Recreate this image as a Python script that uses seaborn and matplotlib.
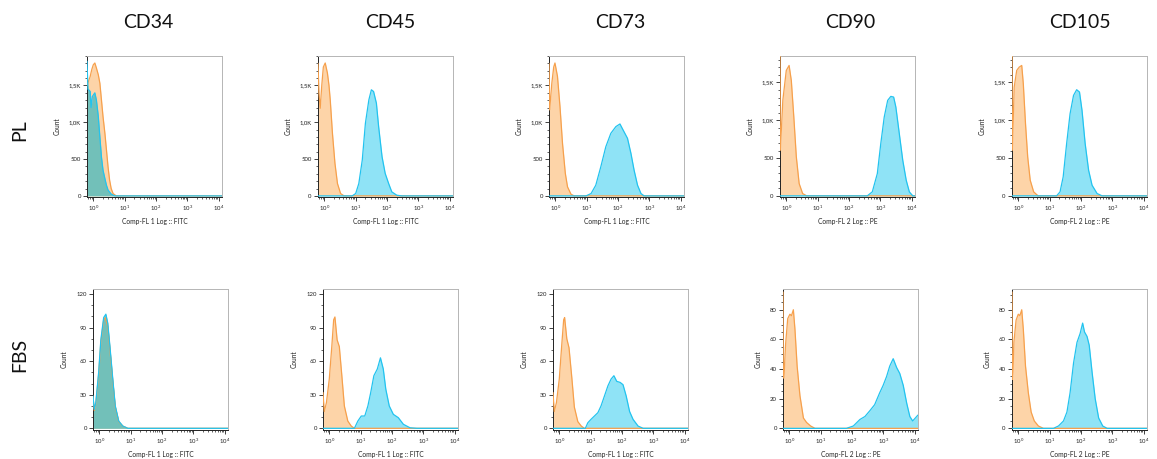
import numpy as np
import matplotlib
matplotlib.use("Agg")
import matplotlib.pyplot as plt
import seaborn as sns
from matplotlib.ticker import FuncFormatter, AutoMinorLocator, LogLocator, NullFormatter

# column / row labels
markers = ["CD34", "CD45", "CD73", "CD90", "CD105"]
media = ["PL", "FBS"]
channels = ["Comp-FL 1 Log :: FITC"] * 3 + ["Comp-FL 2 Log :: PE"] * 2

# histogram outlines: log10(fluorescence) and cell count
# "iso" = orange control, "ab" = blue stained sample
pl_cd34_iso_x = [-0.2, -0.1, -0.05, 0.0, 0.05, 0.1, 0.16, 0.21, 0.26, 0.31, 0.37, 0.42, 0.47, 0.52, 0.57, 0.63, 0.73, 4.1]
pl_cd34_iso_y = [1500, 1620, 1713, 1780, 1805, 1736, 1645, 1530, 1305, 1077, 850, 623, 395, 214, 100, 32, 0, 0]
pl_cd34_ab_x = [-0.2, -0.17, -0.1, -0.07, -0.03, 0.05, 0.1, 0.16, 0.21, 0.26, 0.31, 0.37, 0.42, 0.47, 0.57, 0.68, 4.1]
pl_cd34_ab_y = [1830, 1450, 1420, 1200, 1350, 1400, 1300, 1080, 800, 530, 350, 235, 145, 80, 25, 0, 0]

pl_cd45_iso_x = [-0.2, -0.17, -0.13, -0.08, -0.03, 0.03, 0.1, 0.15, 0.19, 0.26, 0.34, 0.42, 0.52, 0.63, 4.1]
pl_cd45_iso_y = [1800, 1400, 1190, 1500, 1750, 1805, 1668, 1500, 1304, 850, 441, 168, 32, 0, 0]
pl_cd45_ab_x = [-0.2, 0.89, 1.0, 1.1, 1.21, 1.31, 1.42, 1.5, 1.57, 1.66, 1.73, 1.84, 1.94, 2.05, 2.15, 2.31, 2.47, 4.1]
pl_cd45_ab_y = [0, 0, 32, 168, 486, 986, 1304, 1441, 1418, 1259, 945, 532, 305, 168, 55, 9, 0, 0]

pl_cd73_iso_x = [-0.2, -0.18, -0.11, -0.05, -0.01, 0.07, 0.15, 0.23, 0.32, 0.39, 0.5, 0.6, 4.1]
pl_cd73_iso_y = [1800, 1168, 1530, 1750, 1805, 1623, 1213, 714, 305, 123, 23, 0, 0]
pl_cd73_ab_x = [-0.2, 0.98, 1.14, 1.29, 1.45, 1.61, 1.77, 1.93, 2.06, 2.16, 2.3, 2.41, 2.51, 2.62, 2.73, 2.83, 4.1]
pl_cd73_ab_y = [0, 0, 32, 145, 395, 668, 850, 941, 977, 895, 782, 577, 350, 145, 32, 0, 0]

pl_cd90_iso_x = [-0.2, -0.19, -0.11, 0.0, 0.09, 0.16, 0.24, 0.32, 0.41, 0.52, 0.65, 4.1]
pl_cd90_iso_y = [2000, 603, 1263, 1659, 1725, 1527, 1043, 515, 163, 31, 0, 0]
pl_cd90_ab_x = [-0.2, 2.58, 2.74, 2.9, 3.01, 3.12, 3.23, 3.33, 3.42, 3.49, 3.6, 3.71, 3.82, 3.92, 4.03, 4.1]
pl_cd90_ab_y = [0, 0, 53, 295, 691, 1043, 1263, 1316, 1307, 1175, 823, 471, 207, 53, 0, 0]

pl_cd105_iso_x = [-0.2, -0.19, -0.13, -0.05, 0.03, 0.11, 0.16, 0.23, 0.3, 0.38, 0.49, 0.63, 4.1]
pl_cd105_iso_y = [2000, 603, 1439, 1659, 1703, 1725, 1483, 955, 515, 207, 53, 0, 0]
pl_cd105_ab_x = [-0.2, 1.22, 1.33, 1.43, 1.54, 1.65, 1.76, 1.86, 1.95, 2.03, 2.13, 2.24, 2.35, 2.51, 2.67, 4.1]
pl_cd105_ab_y = [0, 0, 53, 251, 691, 1087, 1329, 1404, 1373, 1131, 691, 339, 141, 31, 0, 0]

fbs_cd34_iso_x = [-0.2, -0.16, -0.11, -0.02, 0.05, 0.14, 0.19, 0.27, 0.34, 0.43, 0.51, 0.62, 0.75, 0.91, 4.1]
fbs_cd34_iso_y = [28, 16, 22, 48, 77, 97, 99, 91, 70, 42, 19, 6, 2, 0, 0]
fbs_cd34_ab_x = [-0.2, -0.16, -0.11, -0.02, 0.05, 0.14, 0.21, 0.27, 0.34, 0.43, 0.51, 0.62, 0.75, 0.91, 4.1]
fbs_cd34_ab_y = [29, 17, 23, 50, 79, 99, 102, 94, 73, 44, 20, 6.5, 2, 0, 0]

fbs_cd45_iso_x = [-0.2, -0.16, -0.09, 0.0, 0.08, 0.14, 0.18, 0.25, 0.32, 0.4, 0.48, 0.59, 0.7, 0.8, 4.1]
fbs_cd45_iso_y = [32, 15, 23, 44, 73, 97, 99.5, 79, 73, 47, 20, 6.5, 2, 0, 0]
fbs_cd45_ab_x = [-0.2, 0.8, 0.91, 1.02, 1.13, 1.23, 1.32, 1.42, 1.53, 1.63, 1.72, 1.8, 1.91, 2.04, 2.2, 2.36, 2.57, 2.79, 4.1]
fbs_cd45_ab_y = [0, 0, 6.5, 11, 11, 20, 32, 47, 53, 63, 53, 35, 20, 12.5, 9.5, 3.6, 0.5, 0, 0]

fbs_cd73_iso_x = [-0.2, -0.16, -0.09, 0.0, 0.08, 0.14, 0.17, 0.24, 0.31, 0.4, 0.48, 0.59, 0.7, 0.8, 4.1]
fbs_cd73_iso_y = [32, 15, 23, 44, 75, 97, 99, 80, 72, 45, 19, 6, 2, 0, 0]
fbs_cd73_ab_x = [-0.2, 0.83, 0.91, 1.01, 1.12, 1.23, 1.33, 1.44, 1.55, 1.65, 1.74, 1.83, 1.94, 2.03, 2.13, 2.24, 2.35, 2.51, 2.67, 4.1]
fbs_cd73_ab_y = [0, 0, 5, 8, 11, 14, 20, 29, 38, 44, 47, 42, 41, 39, 29, 15, 8, 2, 0, 0]

fbs_cd90_iso_x = [-0.2, -0.19, -0.17, -0.12, -0.05, 0.02, 0.07, 0.13, 0.18, 0.25, 0.34, 0.45, 0.55, 0.68, 0.82, 4.1]
fbs_cd90_iso_y = [92, 34, 34, 56, 74, 77, 76, 80, 67, 42, 22, 7, 4, 1.6, 0, 0]
fbs_cd90_ab_x = [-0.2, 1.82, 2.04, 2.25, 2.41, 2.57, 2.72, 2.88, 2.99, 3.1, 3.2, 3.31, 3.42, 3.52, 3.63, 3.74, 3.84, 3.93, 4.1]
fbs_cd90_ab_y = [0, 0, 1.6, 6, 8, 12, 16, 24, 29, 35, 42, 47, 41, 37, 29, 17, 8, 5, 9]

fbs_cd105_iso_x = [-0.2, -0.19, -0.17, -0.14, -0.07, 0.0, 0.05, 0.11, 0.16, 0.23, 0.32, 0.41, 0.51, 0.64, 0.8, 4.1]
fbs_cd105_iso_y = [92, 33, 38, 58, 73, 77, 76, 80, 67, 42, 24, 11, 5, 1.6, 0, 0]
fbs_cd105_ab_x = [-0.2, 1.12, 1.28, 1.44, 1.55, 1.65, 1.76, 1.87, 1.97, 2.05, 2.11, 2.19, 2.26, 2.35, 2.45, 2.56, 2.69, 2.83, 4.1]
fbs_cd105_ab_y = [0, 0, 1.6, 5, 11, 24, 44, 58, 64, 71, 65, 62, 56, 38, 20, 7, 1.6, 0, 0]

curves = {
    ("PL", "CD34"): (pl_cd34_iso_x, pl_cd34_iso_y, pl_cd34_ab_x, pl_cd34_ab_y),
    ("PL", "CD45"): (pl_cd45_iso_x, pl_cd45_iso_y, pl_cd45_ab_x, pl_cd45_ab_y),
    ("PL", "CD73"): (pl_cd73_iso_x, pl_cd73_iso_y, pl_cd73_ab_x, pl_cd73_ab_y),
    ("PL", "CD90"): (pl_cd90_iso_x, pl_cd90_iso_y, pl_cd90_ab_x, pl_cd90_ab_y),
    ("PL", "CD105"): (pl_cd105_iso_x, pl_cd105_iso_y, pl_cd105_ab_x, pl_cd105_ab_y),
    ("FBS", "CD34"): (fbs_cd34_iso_x, fbs_cd34_iso_y, fbs_cd34_ab_x, fbs_cd34_ab_y),
    ("FBS", "CD45"): (fbs_cd45_iso_x, fbs_cd45_iso_y, fbs_cd45_ab_x, fbs_cd45_ab_y),
    ("FBS", "CD73"): (fbs_cd73_iso_x, fbs_cd73_iso_y, fbs_cd73_ab_x, fbs_cd73_ab_y),
    ("FBS", "CD90"): (fbs_cd90_iso_x, fbs_cd90_iso_y, fbs_cd90_ab_x, fbs_cd90_ab_y),
    ("FBS", "CD105"): (fbs_cd105_iso_x, fbs_cd105_iso_y, fbs_cd105_ab_x, fbs_cd105_ab_y),
}

# y axis ticks per row / column
pl_yticks = [0, 500, 1000, 1500]
fbs_yticks_a = [0, 30, 60, 90, 120]
fbs_yticks_b = [0, 20, 40, 60, 80]

# layout in pixels of the 1157x459 picture
W, H = 1157, 459
row_left = {"PL": [87, 318, 549, 780, 1012], "FBS": [93, 323, 553, 783, 1012]}
row_top = {"PL": 56, "FBS": 289}
ax_w, ax_h = 135, 141
title_x = [148, 390, 620, 850, 1080]
ylims = {"PL": [(-15, 1900)] * 3 + [(-15, 1850)] * 2,
         "FBS": [(-1.5, 124.5)] * 3 + [(-1.1, 94)] * 2}

orange_line = "#f6a04c"
orange_fill = "#fdd4a8"
blue_line = "#22c3ef"
blue_fill = "#8fe3f6"
teal_fill = "#72c0b9"

sns.set_style("white")
plt.rcParams["font.family"] = ["Lato", "DejaVu Sans"]
plt.rcParams["mathtext.fontset"] = "dejavusans"

fig = plt.figure(figsize=(W / 100, H / 100), dpi=100)


def k_fmt(v, pos):
    if v >= 1000:
        return ("%.1fK" % (v / 1000)).replace(".", ",")
    return "%d" % v


for r, med in enumerate(media):
    for c, mk in enumerate(markers):
        left = row_left[med][c]
        top = row_top[med]
        ax = fig.add_axes([left / W, 1 - (top + ax_h) / H, ax_w / W, ax_h / H])
        ix, iy, bx, by = curves[(med, mk)]
        ix = 10 ** np.array(ix)
        bx = 10 ** np.array(bx)

        ax.set_xscale("log")
        ax.fill_between(ix, iy, 0, color=orange_fill, lw=0, zorder=1)
        if mk == "CD34":
            ax.fill_between(bx, by, 0, color=teal_fill, lw=0, zorder=2)
        else:
            ax.fill_between(bx, by, 0, color=blue_fill, lw=0, zorder=2)
        sns.lineplot(x=ix, y=iy, ax=ax, color=orange_line, lw=0.9, estimator=None, zorder=3)
        sns.lineplot(x=bx, y=by, ax=ax, color=blue_line, lw=0.9, estimator=None, zorder=4)

        ax.set_xlim(10 ** -0.2, 10 ** 4.1)
        ax.set_ylim(*ylims[med][c])
        ax.set_xticks([1, 10, 100, 1000, 10000])
        ax.xaxis.set_minor_locator(LogLocator(base=10, subs=np.arange(2, 10), numticks=20))
        ax.xaxis.set_minor_formatter(NullFormatter())
        if med == "PL":
            ax.set_yticks(pl_yticks)
            ax.yaxis.set_major_formatter(FuncFormatter(k_fmt))
            ax.yaxis.set_minor_locator(AutoMinorLocator(5))
        elif c < 3:
            ax.set_yticks(fbs_yticks_a)
            ax.yaxis.set_minor_locator(AutoMinorLocator(3))
        else:
            ax.set_yticks(fbs_yticks_b)
            ax.yaxis.set_minor_locator(AutoMinorLocator(4))

        ax.tick_params(which="major", length=3, width=0.6, labelsize=4.3, pad=1.5, colors="#222222")
        ax.tick_params(which="minor", length=1.6, width=0.5, colors="#222222")
        ax.tick_params(axis="both", which="both", bottom=True, left=True, top=False, right=False)
        for side in ["top", "right"]:
            ax.spines[side].set_color("#b5b5b5")
            ax.spines[side].set_linewidth(0.7)
        for side in ["left", "bottom"]:
            ax.spines[side].set_color("#222222")
            ax.spines[side].set_linewidth(0.7)

        ax.set_xlabel(channels[c], fontsize=4.8, labelpad=4, color="#222222")
        ax.set_ylabel("Count", fontsize=4.8, labelpad=6, color="#222222")

        if r == 0:
            fig.text(title_x[c] / W, 1 - 22 / H, mk, ha="center", va="center",
                     fontsize=14, color="#111111")

fig.text(20 / W, 1 - 130 / H, "PL", rotation=90, ha="center", va="center", fontsize=14, color="#111111")
fig.text(20 / W, 1 - 355 / H, "FBS", rotation=90, ha="center", va="center", fontsize=14, color="#111111")

fig.savefig("out.png", dpi=100)
